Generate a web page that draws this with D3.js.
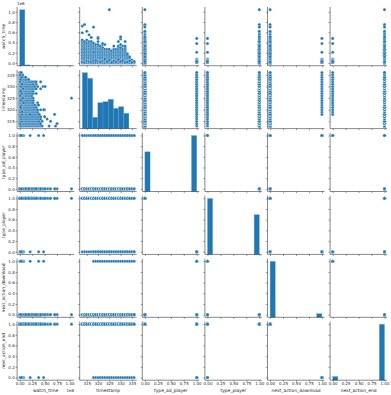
<!DOCTYPE html>
<html><head><meta charset="utf-8">
<script src="https://cdn.jsdelivr.net/npm/d3@7"></script>
<style>
html,body{margin:0;padding:0;background:#fff;}
svg{display:block;font-family:"DejaVu Sans",sans-serif;}
</style></head>
<body>
<svg id="chart" width="391" height="395"></svg>
<script>
// ---------------- data ----------------
const variables = ["watch_time","timestamp","type_ad_player","type_player","next_action_download","next_action_end"];

// hours on the timestamp axis
const hours = [313,314,315,316,317,318,319,320,321,322,323,324,325,326,327,328,329,330,331,332,333,334,335,336];

// watch_time (x1e8) of "player" sessions seen at each hour
const playerWatch = [
 [0,.03,.06,.09,.12,.15,.18,.21,.24,.27,.30,.33,.36,.39,.42,.45,.59,.72],
 [0,.03,.06,.09,.12,.15,.18,.21,.24,.27,.30,.33,.36,.39,.42,.75],
 [0,.03,.06,.09,.12,.15,.18,.21,.24,.27,.30,.33,.36,.39,.45,.62],
 [0,.03,.06,.09,.12,.15,.18,.21,.24,.27,.30,.33,.36,.39,.42,.55],
 [0,.03,.06,.09,.12,.15,.18,.21,.24,.27,.30,.33,.36,.39,.42,.50],
 [0,.03,.06,.09,.12,.15,.18,.21,.24,.27,.30,.33,.36,.39,.70],
 [0,.03,.06,.09,.12,.15,.18,.21,.24,.27,.30,.33,.36],
 [0,.03,.06,.09,.12,.15,.18,.21,.24,.27,.30,.33,.36,.42,.50],
 [0,.03,.06,.09,.12,.15,.18,.21,.24,.27,.30,.33],
 [0,.03,.06,.09,.12,.15,.18,.21,.24,.27,.30,.36],
 [0,.03,.06,.09,.12,.15,.18,.21,.24,.27,.36],
 [0,.03,.06,.09,.12,.15,.18,.21,.24,.27],
 [0,.03,.06,.09,.12,.15,.18,.21,.24,.27,1.04],
 [0,.03,.06,.09,.12,.15,.18,.21,.24],
 [0,.03,.06,.09,.12,.15,.18,.21,.24,.27,.33],
 [0,.03,.06,.09,.12,.15,.18,.21,.24,.27],
 [0,.03,.06,.09,.12,.15,.18,.21,.24,.27,.30,.33,.42],
 [0,.03,.06,.09,.12,.15,.18,.21,.24,.27,.30,.36,.47,.51],
 [0,.03,.06,.09,.12,.15,.18,.21,.24,.27,.33],
 [0,.03,.06,.09,.12,.15,.18,.21,.24,.27,.30,.33,.42],
 [0,.03,.06,.09,.12,.15,.18],
 [0,.03,.06,.09,.12],
 [0,.03,.06],
 [0,.03]
];

// "ad player" sessions that ended (one sample per hour), watch_time x1e8
const adEndWatch = [.02,.01,.04,.03,.02,.05,.01,.03,.02,.04,.06,.01,.03,.02,.05,.01,.04,.02,.03,.01,.02,.04,.01,.02];

// "ad player" sessions followed by a download
const adDownloadHours = [318,319,320,321,322,323,324,325,326,327,328,329,330,331,332,333,334,335,336];
const adDownloadWatch = [.21,.05,.48,.02,.38,.08,.03,.06,.01,.04,.02,.07,.03,.05,.01,.02,.04,.01,.03];

// binary flags of the three session groups: player/end, ad/end, ad/download
const typeAdPlayer       = [0,1,1];
const typePlayer         = [1,0,0];
const nextActionDownload = [0,0,1];
const nextActionEnd      = [1,1,0];

// diagonal histogram counts (10 bins each)
const watchCounts    = [9820,140,22,8,4,2,1,1,0,2];
const timeCounts     = [1118,1006,226,518,538,586,406,438,306,0];
const adCounts       = [4150,0,0,0,0,0,0,0,0,5850];
const playerCounts   = [5850,0,0,0,0,0,0,0,0,4150];
const downloadCounts = [9390,0,0,0,0,0,0,0,0,610];
const endCounts      = [610,0,0,0,0,0,0,0,0,9390];

// tick labels
const watchTicks  = [0,0.25,0.5,0.75,1.0];
const watchYTicks = [0,0.2,0.4,0.6,0.8,1.0];
const timeTicks   = [315,320,325,330,335];
const binXTicks   = [0,0.25,0.5,0.75,1.0];
const binYTicks   = [0,0.2,0.4,0.6,0.8,1.0];

// ---------------- records ----------------
const records = [];
hours.forEach((h,i)=>{
  playerWatch[i].forEach(w=>records.push([w,h,typeAdPlayer[0],typePlayer[0],nextActionDownload[0],nextActionEnd[0]]));
  records.push([adEndWatch[i],h,typeAdPlayer[1],typePlayer[1],nextActionDownload[1],nextActionEnd[1]]);
});
adDownloadHours.forEach((h,i)=>records.push([adDownloadWatch[i],h,typeAdPlayer[2],typePlayer[2],nextActionDownload[2],nextActionEnd[2]]));

const counts = [watchCounts,timeCounts,adCounts,playerCounts,downloadCounts,endCounts];
const xTicks = [watchTicks,timeTicks,binXTicks,binXTicks,binXTicks,binXTicks];
const yTicks = [watchYTicks,timeTicks,binYTicks,binYTicks,binYTicks,binYTicks];
const xFmt = [d3.format(".2f"),d3.format("d"),d3.format(".2f"),d3.format(".2f"),d3.format(".2f"),d3.format(".2f")];
const yFmt = [d3.format(".1f"),d3.format("d"),d3.format(".1f"),d3.format(".1f"),d3.format(".1f"),d3.format(".1f")];

// ---------------- layout ----------------
const left0=17.1, colStep=62.6, pw=57;
const top0=7, rowStep=62.9, ph=58.7;
const blue="#1f77b4";

const svg=d3.select("#chart");

const extents = variables.map((v,k)=>d3.extent(records,r=>r[k]));
function padDomain(e){const s=e[1]-e[0];return [e[0]-0.05*s,e[1]+0.05*s];}
const xScales = extents.map(e=>d3.scaleLinear().domain(padDomain(e)).range([0,pw]));
const yScales = extents.map(e=>d3.scaleLinear().domain(padDomain(e)).range([ph,0]));

function styleAxis(g){
  g.selectAll(".domain").attr("stroke","#262626").attr("stroke-width",0.55);
  g.selectAll(".tick line").attr("stroke","#262626").attr("stroke-width",0.45);
  g.selectAll(".tick text").attr("fill","#262626").attr("font-size","4px").attr("font-family","DejaVu Sans");
}

for(let r=0;r<6;r++){
  for(let c=0;c<6;c++){
    const gx=left0+c*colStep, gy=top0+r*rowStep;
    const g=svg.append("g").attr("transform",`translate(${gx},${gy})`);
    const xs=xScales[c];
    if(r===c){
      // histogram
      const e=extents[c];
      const bw=(e[1]-e[0])/10;
      const cnt=counts[c];
      const hy=d3.scaleLinear().domain([0,d3.max(cnt)*1.05]).range([ph,0]);
      g.selectAll("rect").data(cnt).join("rect")
        .attr("x",(d,i)=>xs(e[0]+i*bw))
        .attr("width",(d,i)=>xs(e[0]+(i+1)*bw)-xs(e[0]+i*bw))
        .attr("y",d=>hy(d))
        .attr("height",d=>ph-hy(d))
        .attr("fill",blue).attr("fill-opacity",1)
        .attr("stroke","#6aa3d1").attr("stroke-width",0.35)
        .attr("display",d=>d>0?null:"none");
    } else {
      const ys=yScales[r];
      g.selectAll("circle").data(records).join("circle")
        .attr("cx",d=>xs(d[c])).attr("cy",d=>ys(d[r])).attr("r",1.55)
        .attr("fill",blue).attr("stroke","#fff").attr("stroke-width",0.3);
    }
    // axes
    const ys=yScales[r];
    const ax=g.append("g").attr("transform",`translate(0,${ph})`)
      .call(d3.axisBottom(xs).tickValues(xTicks[c]).tickSize(1.6).tickPadding(0.8).tickFormat(r===5?xFmt[c]:""));
    styleAxis(ax);
    const ay=g.append("g")
      .call(d3.axisLeft(ys).tickValues(yTicks[r]).tickSize(1.6).tickPadding(0.8).tickFormat(c===0?yFmt[r]:""));
    styleAxis(ay);
    ax.select(".domain").attr("d",`M0,0H${pw}`);
    ay.select(".domain").attr("d",`M0,${ph}V0`);
  }
}

// axis labels
variables.forEach((v,k)=>{
  svg.append("text").attr("x",left0+k*colStep+pw/2).attr("y",392.3)
    .attr("text-anchor","middle").attr("font-size","4.4px").attr("fill","#262626").text(v);
  const cy=top0+k*rowStep+ph/2;
  svg.append("text").attr("transform",`translate(5.2,${cy}) rotate(-90)`)
    .attr("text-anchor","middle").attr("font-size","4.4px").attr("fill","#262626").text(v);
});
// offset texts
svg.append("text").attr("x",left0).attr("y",5).attr("text-anchor","start").attr("font-size","4px").attr("fill","#262626").text("1e8");
svg.append("text").attr("x",left0+pw).attr("y",391.5).attr("text-anchor","end").attr("font-size","4px").attr("fill","#262626").text("1e8");
</script>
</body></html>
